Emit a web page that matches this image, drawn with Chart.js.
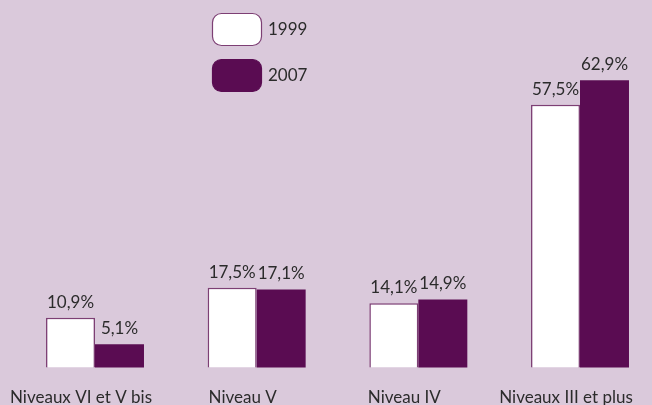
<!DOCTYPE html>
<html>
<head>
<meta charset="utf-8">
<script src="https://cdn.jsdelivr.net/npm/chart.js@4.4.1/dist/chart.umd.min.js"></script>
<style>
  html, body { margin: 0; padding: 0; background: #dac9db; overflow: hidden; }
  #wrap { width: 652px; height: 405px; position: relative; }
</style>
</head>
<body>
<div id="wrap"><canvas id="c" width="652" height="405"></canvas></div>
<script>
const categories = ["Niveaux VI et V bis", "Niveau V", "Niveau IV", "Niveaux III et plus"];
const seriesNames = ["1999", "2007"];
const values1999 = [10.9, 17.5, 14.1, 57.5];
const values2007 = [5.1, 17.1, 14.9, 62.9];

const FONT = "Lato, 'Open Sans', sans-serif";
const TEXT = "#2b2b2b";
const PURPLE = "#5a0c52";
const BORDER = "#7d3f74";

function fmt(v) { return v.toFixed(1).replace('.', ',') + '%'; }

const valueLabels = {
  id: 'valueLabels',
  afterDatasetsDraw(chart) {
    const ctx = chart.ctx;
    ctx.save();
    ctx.font = "17px " + FONT;
    ctx.fillStyle = TEXT;
    ctx.textAlign = 'center';
    ctx.textBaseline = 'bottom';
    chart.data.datasets.forEach((ds, di) => {
      const meta = chart.getDatasetMeta(di);
      meta.data.forEach((bar, i) => {
        ctx.fillText(fmt(ds.data[i]), bar.x, bar.y - 7);
      });
    });
    ctx.restore();
  }
};

const customLegend = {
  id: 'customLegend',
  afterDraw(chart) {
    const ctx = chart.ctx;
    ctx.save();
    const x = 212, w = 49, h = 32, r = 9;
    const ys = [13, 59];
    chart.data.datasets.forEach((ds, i) => {
      const y = ys[i];
      ctx.beginPath();
      ctx.roundRect(x + 0.5, y + 0.5, w, h, r);
      ctx.fillStyle = ds.backgroundColor;
      ctx.fill();
      ctx.lineWidth = 1.2;
      ctx.strokeStyle = ds.borderColor;
      ctx.stroke();
      ctx.font = "17px " + FONT;
      ctx.fillStyle = TEXT;
      ctx.textAlign = 'left';
      ctx.textBaseline = 'middle';
      ctx.fillText(ds.label, 268, y + h / 2 + 1);
    });
    ctx.restore();
  }
};

new Chart(document.getElementById('c'), {
  type: 'bar',
  data: {
    labels: categories,
    datasets: [
      { label: seriesNames[0], data: values1999, backgroundColor: '#ffffff', borderColor: BORDER, borderWidth: 1.5, clip: false },
      { label: seriesNames[1], data: values2007, backgroundColor: PURPLE, borderColor: PURPLE, borderWidth: 0, clip: false }
    ]
  },
  options: {
    responsive: false,
    animation: false,
    devicePixelRatio: 1,
    layout: { padding: { left: 95, right: 72, top: 2, bottom: -23 } },
    plugins: { legend: { display: false }, tooltip: { enabled: false } },
    datasets: { bar: { barPercentage: 1, categoryPercentage: 0.606 } },
    scales: {
      x: {
        offset: false,
        grid: { display: false, drawTicks: false },
        border: { display: false },
        ticks: { color: TEXT, font: { family: FONT, size: 17 }, padding: 20, labelOffset: -14, maxRotation: 0, autoSkip: false },
        afterFit(scale) { scale.paddingLeft = 0; scale.paddingRight = 0; }
      },
      y: { display: false, min: 0, max: 80 }
    }
  },
  plugins: [valueLabels, customLegend]
});
</script>
</body>
</html>
